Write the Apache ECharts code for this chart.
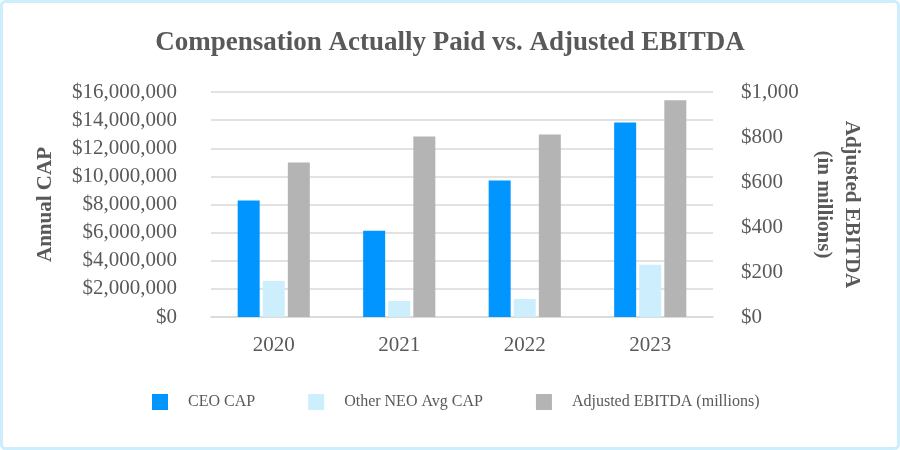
<!DOCTYPE html>
<html><head><meta charset="utf-8">
<script src="https://cdn.jsdelivr.net/npm/echarts@6/dist/echarts.min.js"></script>
<style>html,body{margin:0;padding:0;background:#fff}#c{width:900px;height:450px}</style>
</head><body><div id="c"></div>
<script>
const categories = ['2020', '2021', '2022', '2023'];
const ceoCap = [8280000, 6130000, 9700000, 13840000];
const neoAvgCap = [2570000, 1140000, 1280000, 3710000];
const ebitda = [687, 802, 811, 963];
const seriesNames = ['CEO CAP', 'Other NEO Avg CAP', 'Adjusted EBITDA (millions)'];

const font = '"Liberation Serif", "Times New Roman", serif';
const grey = '#595959';
const chart = echarts.init(document.getElementById('c'));
function money(v){ return '$' + Math.round(v).toString().replace(/\B(?=(\d{3})+(?!\d))/g, ','); }
chart.setOption({
  animation: false,
  textStyle: { fontFamily: font },
  graphic: [{ type: 'rect', shape: { x: 1.5, y: 1.5, width: 897, height: 447, r: 4 },
    style: { fill: 'none', stroke: '#cdeefd', lineWidth: 3 } }],
  title: { text: 'Compensation Actually Paid vs. Adjusted EBITDA', left: 'center', top: 25,
    textStyle: { fontFamily: font, fontSize: 27, fontWeight: 'bold', color: grey } },
  legend: { top: 394, left: 152, padding: 0, itemWidth: 16, itemHeight: 16, itemGap: 53, icon: 'rect',
    textStyle: { fontFamily: font, fontSize: 16, color: grey, padding: [0, 0, 0, 15] },
    data: seriesNames },
  grid: { left: 211, right: 187, top: 92, bottom: 133 },
  xAxis: { type: 'category', data: categories,
    axisLine: { lineStyle: { color: '#d9d9d9', width: 1.5 } }, axisTick: { show: false },
    axisLabel: { fontFamily: font, fontSize: 21, color: grey, margin: 18 } },
  yAxis: [
    { type: 'value', min: 0, max: 16000000, interval: 2000000,
      name: 'Annual CAP', nameLocation: 'middle', nameGap: 155,
      nameTextStyle: { fontFamily: font, fontSize: 21, fontWeight: 'bold', color: grey },
      axisLabel: { formatter: money, fontFamily: font, fontSize: 21, color: grey, margin: 34 },
      splitLine: { lineStyle: { color: '#d9d9d9', width: 1.5 } }, axisLine: { show: false }, axisTick: { show: false } },
    { type: 'value', min: 0, max: 1000, interval: 200, position: 'right',
      name: 'Adjusted EBITDA\n(in millions)', nameLocation: 'middle', nameGap: 93, nameRotate: -90,
      nameTextStyle: { fontFamily: font, fontSize: 21, fontWeight: 'bold', color: grey, lineHeight: 28 },
      axisLabel: { formatter: money, fontFamily: font, fontSize: 21, color: grey, margin: 28 },
      splitLine: { show: false }, axisLine: { show: false }, axisTick: { show: false } }
  ],
  series: [
    { name: seriesNames[0], type: 'bar', data: ceoCap, yAxisIndex: 0, barWidth: 22, barGap: '14%', itemStyle: { color: '#0095ff' } },
    { name: seriesNames[1], type: 'bar', data: neoAvgCap, yAxisIndex: 0, barWidth: 22, barGap: '14%', itemStyle: { color: '#cdeefd' } },
    { name: seriesNames[2], type: 'bar', data: ebitda, yAxisIndex: 1, barWidth: 22, barGap: '14%', itemStyle: { color: '#b4b4b4' } }
  ]
});
</script></body></html>
